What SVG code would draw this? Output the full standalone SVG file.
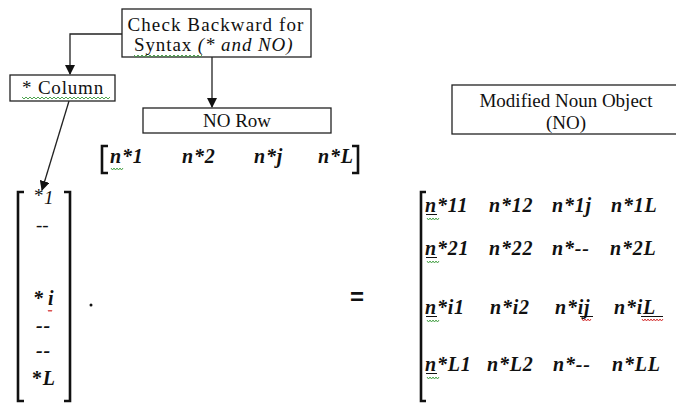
<svg xmlns="http://www.w3.org/2000/svg" width="676" height="406" viewBox="0 0 676 406">
  <style>
    .box { fill: #ffffff; stroke: #222; stroke-width: 1.3; }
    .lbl { font-family: "Liberation Serif", "Times New Roman", serif; font-size: 19px; fill: #111; }
    .ent { font-family: "Liberation Serif", "Times New Roman", serif; font-size: 20px; font-weight: bold; font-style: italic; letter-spacing: 0.8px; fill: #111; }
    .brk { fill: none; stroke: #111; stroke-width: 2.6; }
    .wire { fill: none; stroke: #222; stroke-width: 1.3; }
    .ul { fill: none; stroke: #111; stroke-width: 1; }
    .sqg { fill: none; stroke: #3a9a3a; stroke-width: 0.9; }
    .sqr { fill: none; stroke: #d02020; stroke-width: 0.9; }
  </style>
  <defs>
    <marker id="arr" markerWidth="10" markerHeight="10" refX="9" refY="5" orient="auto" markerUnits="userSpaceOnUse">
      <path d="M0,0 L10,5 L0,10 Z" fill="#111"/>
    </marker>
    <!-- spell-check style squiggles, reused under words -->
    <path id="sq10" d="M0,0 l1.5,2 l1.5,-2 l1.5,2 l1.5,-2 l1.5,2 l1.5,-2 l1.5,2 l1.5,-2"/>
  </defs>
  <rect width="676" height="406" fill="#ffffff"/>

  <!-- connectors -->
  <g id="connectors">
    <path class="wire" d="M122,34 H70 V74" marker-end="url(#arr)"/>
    <path class="wire" d="M212,57 V107" marker-end="url(#arr)"/>
    <path class="wire" d="M69,101 L42,190" marker-end="url(#arr)"/>
  </g>

  <!-- decision node -->
  <g id="check-backward">
    <rect class="box" x="122" y="9" width="189" height="48"/>
    <text class="lbl" x="216" y="31" text-anchor="middle" letter-spacing="1.1">Check Backward for</text>
    <text class="lbl" x="134" y="51" letter-spacing="0.9">Syntax  <tspan font-style="italic">(* and NO)</tspan></text>
    <path class="sqg" d="M134,55 l2,2 l2,-2 l2,2 l2,-2 l2,2 l2,-2 l2,2 l2,-2 l2,2 l2,-2 l2,2 l2,-2 l2,2 l2,-2 l2,2 l2,-2 l2,2 l2,-2 l2,2 l2,-2 l2,2 l2,-2 l2,2 l2,-2 l2,2 l2,-2 l2,2 l2,-2 l2,2 l2,-2 l2,2 l2,-2 l2,2 l2,-2"/>
  </g>

  <g id="column-node">
    <rect class="box" x="10" y="75" width="105" height="26"/>
    <text class="lbl" x="63" y="94" text-anchor="middle" letter-spacing="0.8">*  Column</text>
    <path class="sqg" d="M22,97 l2,2 l2,-2 l2,2 l2,-2 l2,2 l2,-2 l2,2 l2,-2 l2,2 l2,-2 l2,2 l2,-2 l2,2 l2,-2 l2,2 l2,-2 l2,2 l2,-2 l2,2 l2,-2 l2,2 l2,-2 l2,2 l2,-2 l2,2 l2,-2 l2,2 l2,-2 l2,2 l2,-2 l2,2 l2,-2 l2,2 l2,-2 l2,2 l2,-2 l2,2 l2,-2 l2,2 l2,-2 l2,2 l2,-2 l2,2 l2,-2"/>
  </g>

  <g id="no-row-node">
    <rect class="box" x="143" y="108" width="188" height="25"/>
    <text class="lbl" x="237" y="127" text-anchor="middle" font-size="18">NO Row</text>
  </g>

  <g id="modified-noun-object">
    <rect class="box" x="452" y="85" width="230" height="49"/>
    <text class="lbl" x="566" y="107" text-anchor="middle">Modified Noun Object</text>
    <text class="lbl" x="566" y="129" text-anchor="middle">(NO)</text>
  </g>

  <!-- row vector -->
  <g id="row-vector">
    <path class="brk" d="M108,146 H102 V173 H108"/>
    <path class="brk" d="M352,146 H358 V173 H352"/>
    <text class="ent" x="110" y="163">n*1</text>
    <text class="ent" x="182" y="163">n*2</text>
    <text class="ent" x="254" y="163">n*j</text>
    <text class="ent" x="318" y="163">n*L</text>
    <use href="#sq10" x="111" y="168" class="sqg"/>
  </g>

  <!-- column vector -->
  <g id="column-vector">
    <path class="brk" d="M24,192 H18 V401 H24"/>
    <path class="brk" d="M64,192 H70 V401 H64"/>
    <text class="lbl" x="34" y="202" font-size="16">*</text>
    <text class="lbl" x="44" y="204" font-style="italic" font-size="20">1</text>
    <text class="lbl" x="36" y="231">--</text>
    <text class="ent" x="33" y="305" font-style="normal">*</text>
    <text class="ent" x="48" y="305">i</text>
    <path class="sqr" d="M48,310 l1,1.5 l1,-1.5 l1,1.5 l1,-1.5"/>
    <text class="ent" x="36" y="332" font-style="normal">--</text>
    <text class="ent" x="36" y="357" font-style="normal">--</text>
    <text class="ent" x="32" y="385"><tspan font-style="normal">*</tspan>L</text>
  </g>

  <g id="dot-operator">
    <circle cx="91" cy="305" r="1.5" fill="#111"/>
  </g>

  <g id="equals">
    <text x="357" y="305" text-anchor="middle" font-family="Liberation Sans, Arial, sans-serif" font-size="24" font-weight="bold" fill="#111">=</text>
  </g>

  <!-- result matrix -->
  <g id="result-matrix">
    <path class="brk" d="M426,192 H421 V401 H426"/>
    <text class="ent" x="425" y="212">n*11</text>
    <text class="ent" x="489" y="212">n*12</text>
    <text class="ent" x="552" y="212">n*1j</text>
    <text class="ent" x="611" y="212">n*1L</text>

    <text class="ent" x="425" y="255">n*21</text>
    <text class="ent" x="489" y="255">n*22</text>
    <text class="ent" x="552" y="255">n*--</text>
    <text class="ent" x="610" y="255">n*2L</text>

    <text class="ent" x="425" y="314">n*i1</text>
    <text class="ent" x="490" y="314">n*i2</text>
    <text class="ent" x="555" y="314">n*ij</text>
    <text class="ent" x="614" y="314">n*iL</text>

    <text class="ent" x="425" y="371">n*L1</text>
    <text class="ent" x="487" y="371">n*L2</text>
    <text class="ent" x="553" y="371">n*--</text>
    <text class="ent" x="612" y="371">n*LL</text>

    <!-- underlines and squiggles -->
    <path class="ul" d="M426,214.5 h11 M426,257.5 h11 M426,316.5 h11 M426,373.5 h11 M580,316.5 h13 M641,316.5 h22"/>
    <use href="#sq10" x="427" y="218" class="sqg"/>
    <use href="#sq10" x="427" y="261" class="sqg"/>
    <use href="#sq10" x="427" y="320" class="sqg"/>
    <use href="#sq10" x="427" y="377" class="sqg"/>
    <path class="sqr" d="M582,319 l1.5,2 l1.5,-2 l1.5,2 l1.5,-2 l1.5,2 l1.5,-2"/>
    <path class="sqr" d="M642,319 l1.5,2 l1.5,-2 l1.5,2 l1.5,-2 l1.5,2 l1.5,-2 l1.5,2 l1.5,-2 l1.5,2 l1.5,-2 l1.5,2 l1.5,-2 l1.5,2 l1.5,-2"/>
  </g>
</svg>
